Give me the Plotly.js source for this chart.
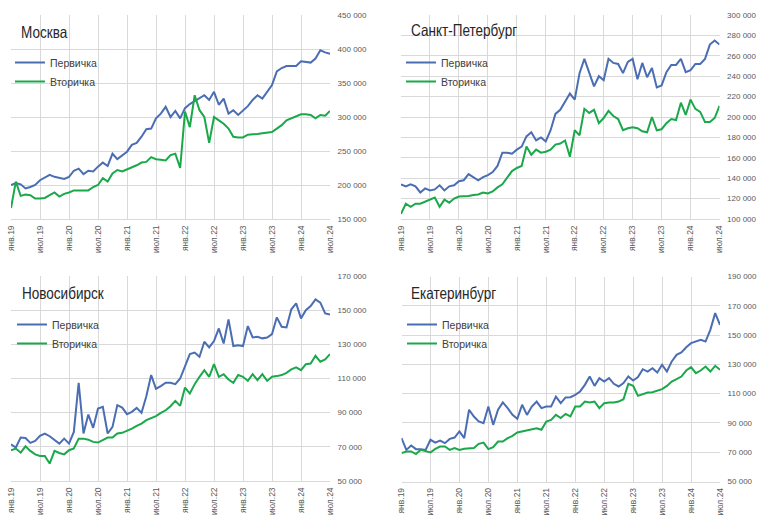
<!DOCTYPE html>
<html><head><meta charset="utf-8">
<script src="https://cdn.plot.ly/plotly-3.0.1.min.js"></script>
<style>html,body{margin:0;padding:0;background:#fff}#chart{width:758px;height:519px}</style>
</head><body><div id="chart"></div>
<script>
const tickLabels = ["янв.19","июл.19","янв.20","июл.20","янв.21","июл.21","янв.22","июл.22","янв.23","июл.23","янв.24","июл.24"];
const seriesNames = ["Первичка","Вторичка"];
const cities = ["Москва","Санкт-Петербург","Новосибирск","Екатеринбург"];

const moscowPrimary = [200000,203000,201000,195000,197000,200000,207000,211000,215000,212000,
 210000,209000,212000,221000,224000,216000,221000,220000,227000,233000,
 228000,246000,238000,244000,249000,259000,262000,271000,282000,283000,
 298000,305000,315000,300000,309000,298000,313000,319000,323000,327000,
 332000,325000,337000,318000,327000,305000,310000,303000,310000,316000,
 325000,332000,327000,337000,347000,367000,372000,375000,375000,375000,
 382000,381000,380000,386000,398000,395000,393000];
const moscowSecondary = [166000,205000,184000,186000,185000,180000,180000,181000,185000,189000,
 183000,187000,189000,192000,192000,192000,192000,197000,200000,210000,
 205000,217000,222000,220000,223000,225000,229000,233000,234000,241000,
 238000,237000,236000,244000,246000,225000,308000,285000,332000,310000,
 300000,262000,300000,295000,290000,283000,271000,270000,270000,274000,
 274000,275000,276000,277000,278000,283000,288000,295000,298000,300000,
 304000,304000,303000,298000,303000,302000,309000];

const spbPrimary = [134000,132000,134000,132000,126000,130000,128000,129000,133000,128000,
 132000,133000,137000,138000,144000,141000,138000,141000,143000,146000,
 152000,165000,165000,164000,168000,171000,181000,185000,177000,180000,
 176000,187000,203000,207000,215000,223000,217000,243000,257000,244000,
 230000,240000,236000,257000,253000,252000,243000,254000,257000,237000,
 253000,239000,248000,229000,231000,244000,251000,251000,257000,244000,
 246000,252000,252000,257000,271000,275000,271000];
const spbSecondary = [105000,115000,112000,115000,115000,117000,119000,121000,112000,119000,
 116000,120000,122000,122000,122500,123500,124000,126000,125000,127000,
 131000,134000,140000,147000,150000,152000,171000,163000,168000,165000,
 166000,168000,173000,174000,177000,161000,187000,182000,208000,204000,
 207000,194000,199000,206000,201000,198000,187000,189000,190000,189000,
 186000,185000,200000,187000,188000,194000,198000,197000,214000,202000,
 217000,208000,205000,195000,195000,199000,211000];

const nskPrimary = [71500,69600,75400,75200,72300,73500,76400,77800,76200,74200,
 71900,74800,71900,78700,107500,77800,88900,81100,92400,93400,
 77800,81700,94400,93000,89100,90500,92800,89900,99600,112000,
 104000,105500,107500,107500,106700,110000,116800,124300,125200,122700,
 131500,128200,131900,139300,130500,144600,129000,129500,129000,140700,
 134000,134400,133500,134000,136000,145800,140300,139900,150500,154000,
 145200,150000,152400,156300,154400,148100,147500];
const nskSecondary = [68000,69000,66600,70300,67600,65600,64700,64700,60200,67600,
 66400,65600,68000,69000,74800,74800,74200,72900,72500,74200,
 75400,75400,77800,78200,79300,80700,82300,83600,85600,86600,
 88000,89900,91400,93800,96900,94000,104700,101200,106700,111000,
 114900,111000,118400,111000,112500,109400,107500,112000,111000,108600,
 112500,109000,112500,108600,111000,111400,112000,113300,115300,116500,
 114900,118400,118800,123300,119800,121200,124300];

const ekbPrimary = [79600,71600,74600,72100,72100,71600,78500,76600,78000,76200,
 79100,80000,84200,79600,99000,94400,91000,89800,101200,88700,
 99000,104000,100100,95500,92800,102400,95500,101200,104600,100100,
 101200,101200,108000,103500,107400,107600,109200,111500,116000,121700,
 115300,120600,118300,120600,116700,114900,117200,121700,119000,121300,
 126700,125100,127400,124400,129700,125100,132000,136500,138100,141700,
 144500,145600,146700,145600,153600,165000,157000];
const ekbSecondary = [69400,70500,70500,68700,71600,70500,69800,72300,73900,73900,
 71600,72800,71600,72300,72800,72800,75700,76600,72100,73500,
 77300,77300,79600,81200,83500,84200,84600,85300,86400,85300,
 91000,92100,95500,93300,96200,94400,101200,101200,104600,104000,
 104600,100100,103500,104000,104000,104600,106200,116700,115300,108500,
 109600,110800,111000,111900,113100,115300,118300,119900,121700,125800,
 128100,124000,125800,128500,125100,129000,126300];

const yRanges = [[150000,450000],[100000,300000],[50000,170000],[50000,190000]];
const yDticks = [50000,20000,20000,20000];
const yTick0 = [0,0,10000,10000];

const W = 758, H = 519;
// plot boxes in pixels: [left, right, top, bottom]
const boxes = [[11,330,15,219],[401,719.5,15,219],[11,330,276,481],[401.5,720,276.5,481.5]];
const titlePos = [[18.5,32],[408.5,30.5],[19.5,292.5],[409,292.5]];
const legendPos = [[10,48],[401,48],[12,310],[402,310]];

const seriesData = [[moscowPrimary,moscowSecondary],[spbPrimary,spbSecondary],[nskPrimary,nskSecondary],[ekbPrimary,ekbSecondary]];
const colors = ["#4a6db3","#1aa84a"];
const months = moscowPrimary.map((_, i) => i);
const tickVals = tickLabels.map((_, i) => i * 6);

const FONT = "'Liberation Sans', Arial, sans-serif";
const NARROW = 0.82;
const traces = [];
const layout = {
  width: W, height: H,
  margin: {l:0, r:0, t:0, b:0},
  paper_bgcolor: "#fff", plot_bgcolor: "#fff",
  separators: ", ",
  font: {family: FONT, color: "#595959"},
  annotations: [],
  showlegend: true
};

seriesData.forEach((pair, k) => {
  const sfx = k === 0 ? "" : String(k + 1);
  const legName = k === 0 ? "legend" : "legend" + (k + 1);
  pair.forEach((vals, j) => {
    traces.push({
      x: months, y: vals, type: "scatter", mode: "lines",
      name: seriesNames[j],
      line: {color: colors[j], width: 2},
      xaxis: "x" + sfx, yaxis: "y" + sfx,
      legend: legName, hoverinfo: "skip"
    });
  });
  const b = boxes[k];
  layout["xaxis" + sfx] = {
    domain: [b[0] / W, b[1] / W],
    anchor: "y" + sfx,
    range: [0, 66],
    tickvals: tickVals, ticktext: tickLabels,
    tickangle: -90,
    tickfont: {size: 8.5, color: "#595959", family: FONT},
    ticks: "outside", ticklen: 2, tickcolor: "rgba(0,0,0,0)",
    showgrid: true, gridcolor: "#d9d9d9", gridwidth: 1,
    showline: true, linecolor: "#d9d9d9", linewidth: 1,
    zeroline: false, fixedrange: true
  };
  layout["yaxis" + sfx] = {
    domain: [1 - b[3] / H, 1 - b[2] / H],
    anchor: "x" + sfx,
    side: "right",
    range: yRanges[k], dtick: yDticks[k], tick0: yTick0[k],
    tickformat: ",d",
    tickfont: {size: 8, color: "#595959", family: FONT},
    ticks: "outside", ticklen: 5, tickcolor: "rgba(0,0,0,0)",
    showgrid: true, gridcolor: "#d9d9d9", gridwidth: 1,
    zeroline: false, showline: false, fixedrange: true
  };
  layout[legName] = {
    x: legendPos[k][0] / W, y: 1 - legendPos[k][1] / H,
    xanchor: "left", yanchor: "top",
    bgcolor: "rgba(255,255,255,0)", borderwidth: 0,
    font: {size: 10.5, color: "#404040", family: FONT},
    itemwidth: 30, tracegroupgap: 0
  };
  layout.annotations.push({
    text: cities[k], xref: "paper", yref: "paper",
    x: titlePos[k][0] / W, y: 1 - titlePos[k][1] / H,
    xanchor: "left", yanchor: "middle", showarrow: false,
    font: {size: 16.5, color: "#262626", family: FONT}
  });
});

// Condense the panel titles to resemble the narrow typeface of the original.
function condenseTitles() {
  document.querySelectorAll("#chart text.annotation-text").forEach(t => {
    if (!t.textContent) return;
    t.removeAttribute("textLength");
    t.removeAttribute("lengthAdjust");
    const len = t.getComputedTextLength();
    if (!(len > 0)) return;
    const newLen = len * NARROW;
    t.setAttribute("textLength", newLen.toFixed(2));
    t.setAttribute("lengthAdjust", "spacingAndGlyphs");
    const anchor = t.getAttribute("text-anchor") || getComputedStyle(t).textAnchor;
    if (anchor === "middle") {
      const cur = t.getAttribute("x") || "0";
      let orig = parseFloat(cur);
      if (t.getAttribute("data-setx") === cur && t.hasAttribute("data-ox")) {
        orig = parseFloat(t.getAttribute("data-ox"));
      }
      const nx = (orig - (len - newLen) / 2).toFixed(2);
      t.setAttribute("data-ox", String(orig));
      t.setAttribute("data-setx", nx);
      t.setAttribute("x", nx);
    }
  });
}

Plotly.newPlot("chart", traces, layout, {staticPlot: true, displayModeBar: false}).then(() => {
  condenseTitles();
  [50, 300].forEach(ms => setTimeout(condenseTitles, ms));
});
</script>
</body></html>
